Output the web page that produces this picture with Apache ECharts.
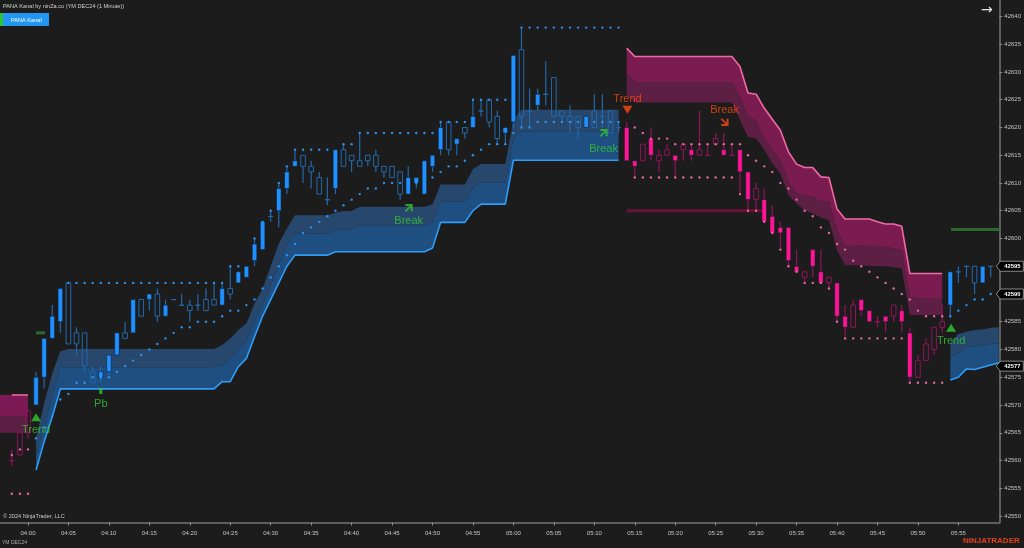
<!DOCTYPE html>
<html><head><meta charset="utf-8">
<style>html,body{margin:0;padding:0;background:#1c1c1c}#c{width:1024px;height:548px}</style>
<script src="https://cdn.jsdelivr.net/npm/echarts@6/dist/echarts.min.js"></script>
</head><body><div id="c"></div>
<script>
const firstBar = -2; // minutes relative to 04:00
const opens = [42560,42561,42565,42570,42575,42582,42585,42592,42583,42583,42576,42575,42576,42579,42583,42583,42589,42589,42590,42586,42589,42588,42588,42588,42589,42589,42588,42591,42592,42593,42596,42598,42604,42605,42609,42613,42615,42613,42611,42607,42609,42616,42615,42614,42615,42615,42613,42613,42612,42608,42610,42608,42613,42616,42621,42617,42620,42620,42623,42625,42622,42619,42621,42634,42623,42624,42626,42629,42623,42622,42622,42620,42623,42622,42623,42620,42620,42614,42614,42618,42614,42615,42615,42616,42616,42615,42615,42617,42616,42615,42616,42612,42607,42607,42604,42602,42602,42595,42593,42598,42594,42592,42592,42586,42584,42589,42587,42585,42586,42586,42587,42583,42575,42578,42580,42584,42588,42594,42595,42595,42592,42595];
const highs = [42562,42565,42569,42576,42582,42588,42591,42592,42584,42583,42577,42577,42579,42583,42585,42589,42589,42590,42591,42589,42589,42590,42589,42590,42591,42592,42592,42595,42594,42595,42600,42603,42605,42610,42613,42616,42615,42614,42612,42611,42616,42617,42615,42619,42615,42616,42613,42613,42612,42613,42611,42614,42615,42621,42621,42618,42620,42625,42625,42625,42623,42620,42633,42638,42627,42627,42632,42629,42623,42624,42622,42622,42626,42626,42623,42621,42621,42614,42617,42620,42616,42617,42615,42617,42617,42623,42617,42619,42619,42617,42616,42612,42610,42609,42606,42603,42602,42598,42594,42598,42598,42593,42592,42588,42589,42589,42587,42586,42586,42588,42588,42584,42579,42582,42584,42588,42594,42595,42595,42595,42595,42595];
const lows = [42559,42561,42564,42570,42573,42582,42583,42581,42579,42576,42574,42574,42575,42579,42582,42583,42586,42587,42585,42586,42589,42588,42585,42587,42587,42588,42588,42589,42592,42593,42595,42598,42603,42602,42608,42613,42610,42609,42608,42606,42608,42613,42612,42613,42613,42612,42611,42611,42607,42608,42609,42608,42612,42615,42615,42615,42618,42620,42622,42620,42617,42617,42620,42620,42620,42623,42624,42622,42621,42619,42618,42620,42620,42620,42619,42619,42614,42611,42614,42614,42612,42615,42611,42614,42614,42615,42615,42617,42615,42615,42608,42605,42605,42603,42601,42598,42595,42594,42592,42593,42592,42591,42585,42582,42584,42586,42585,42584,42583,42585,42583,42574,42575,42578,42579,42583,42586,42592,42593,42590,42592,42593];
const closes = [42560,42565,42569,42575,42582,42586,42591,42581,42581,42577,42574,42576,42579,42583,42582,42589,42586,42590,42586,42588,42589,42588,42587,42588,42587,42588,42591,42590,42594,42595,42599,42603,42604,42609,42612,42614,42613,42612,42608,42607,42616,42613,42614,42613,42614,42613,42612,42611,42608,42611,42611,42614,42615,42620,42616,42618,42619,42622,42623,42621,42618,42620,42633,42622,42623,42626,42626,42622,42622,42621,42620,42622,42620,42622,42619,42620,42614,42613,42617,42615,42615,42616,42614,42617,42615,42616,42615,42618,42615,42615,42612,42607,42609,42603,42601,42601,42596,42594,42594,42595,42592,42593,42586,42584,42588,42587,42585,42585,42585,42588,42585,42575,42578,42581,42584,42585,42594,42594,42595,42592,42595,42595];

const xTickValues = [0,5,10,15,20,25,30,35,40,45,50,55,60,65,70,75,80,85,90,95,100,105,110,115];
const xTickLabels = ['04:00','04:05','04:10','04:15','04:20','04:25','04:30','04:35','04:40','04:45','04:50','04:55','05:00','05:05','05:10','05:15','05:20','05:25','05:30','05:35','05:40','05:45','05:50','05:55'];
const yTickValues = [42550,42555,42560,42565,42570,42575,42580,42585,42590,42595,42600,42605,42610,42615,42620,42625,42630,42635,42640];

// Kanal bands
const pink0Start = -4;
const pink0Upper = [42571.8,42571.8,42571.8,42571.8,42571.8];
const pink0Mid = [42567.9,42567.9,42567.9,42567.9,42567.9];
const pink0Lower = [42565,42565,42565,42565,42565];

const blue1Start = 1;
const blue1Upper = [42564,42570.3,42575.7,42579.7,42580.1,42580.1,42580.1,42580.1,42580.1,42580.1,42580.1,42580.1,42580.1,42580.1,42580.1,42580.1,42580.1,42580.1,42580.1,42580.1,42580.1,42580.1,42580.1,42580.8,42582,42583.5,42584.7,42588.3,42591,42595,42599.1,42601.8,42604.2,42604.2,42604.2,42604.2,42604.2,42604.65,42604.95,42604.95,42605.7,42605.7,42605.7,42605.7,42605.7,42605.7,42605.7,42605.7,42605.7,42606.15,42609.75,42609.75,42609.75,42609.75,42612.5,42613.4,42613.4,42613.4,42613.4,42621.4,42623.2,42623.2,42623.2,42623.2,42623.2,42623.2,42623.2,42623.2,42623.2,42623.2,42623.2,42623.2,42623.2];
const blue1Mid = [42561,42566,42571.8,42576.8,42576.8,42576.8,42576.8,42576.8,42576.8,42576.8,42576.8,42576.8,42576.8,42576.8,42576.8,42576.8,42576.8,42576.8,42576.8,42576.8,42576.8,42576.8,42576.8,42577.2,42578.4,42579.9,42581.7,42585,42588,42591.5,42595.3,42598.8,42600.9,42600.9,42600.9,42600.9,42600.9,42601.4,42601.6,42601.6,42602.4,42602.4,42602.4,42602.4,42602.4,42602.4,42602.4,42602.4,42602.4,42602.9,42606.6,42606.6,42606.6,42606.6,42609.2,42610.1,42610.1,42610.1,42610.1,42618,42619.3,42619.3,42619.3,42619.3,42619.3,42619.3,42619.3,42619.3,42619.3,42619.3,42619.3,42619.3,42619.3];
const blue1Lower = [42558.3,42563.4,42567.9,42572.9,42572.9,42572.9,42572.9,42572.9,42572.9,42572.9,42572.9,42572.9,42572.9,42572.9,42572.9,42572.9,42572.9,42572.9,42572.9,42572.9,42572.9,42572.9,42572.9,42574.2,42574.2,42576.9,42578.4,42582.3,42586,42589,42592,42595,42597,42597,42597,42597,42597,42597.6,42597.6,42597.6,42597.6,42597.6,42597.6,42597.6,42597.6,42597.6,42597.6,42597.6,42597.6,42598.3,42602.9,42602.9,42602.9,42602.9,42605,42606.2,42606.2,42606.2,42606.2,42614.1,42614.1,42614.1,42614.1,42614.1,42614.1,42614.1,42614.1,42614.1,42614.1,42614.1,42614.1,42614.1,42614.1];

const pink1Start = 74;
const pink1Upper = [42634.3,42632.8,42632.8,42632.8,42632.8,42632.8,42632.8,42632.8,42632.8,42632.8,42632.8,42632.8,42632.8,42632.8,42631,42626.2,42626,42623.5,42621.5,42619.5,42615.6,42613.4,42612.8,42612.8,42611.1,42611,42605.3,42603.5,42603.5,42603.5,42603.5,42603,42602.6,42602.6,42602.2,42593.7,42593.7,42593.7,42593.7,42593.7];
const pink1Mid = [42629.8,42628.2,42628.2,42628.2,42628.2,42628.2,42628.2,42628.2,42628.2,42628.2,42628.2,42628.2,42628.2,42628.2,42625.6,42622,42621.2,42618,42616,42614.1,42610.2,42608.1,42607.8,42607.5,42606.6,42606.6,42601.5,42598.5,42598.7,42598.7,42598.7,42598.6,42598.5,42598.2,42597.9,42589.5,42589.3,42589.3,42589.3,42589.3];
const pink1Lower = [42625.9,42624.5,42624.5,42624.5,42624.5,42624.5,42624.5,42624.5,42624.5,42624.5,42624.5,42624.5,42624.5,42624.5,42621.4,42618.3,42618,42616,42613.5,42611.7,42607.8,42606.3,42605.1,42604.5,42603.8,42603.3,42597.9,42595.2,42595.2,42595.2,42595.1,42595,42595,42594.8,42594.6,42586.2,42586.2,42586.2,42586.2,42586.2];

const blue2Start = 114;
const blue2Upper = [42581.1,42582.8,42583.2,42583.5,42583.6,42583.9,42584];
const blue2Mid = [42578.7,42579.3,42580.5,42580.6,42580.8,42581,42581.1];
const blue2Lower = [42574.5,42575,42576.5,42576.4,42576.8,42577.2,42577.6];

// Dotted stop levels
const blueStopLowStart = 1;
const blueStopLow = [42564,42566,42568,42571,42572,42574,42574,42575,42575,42575,42576,42577,42578,42579,42580,42581,42582,42583,42584,42584,42585,42585,42585,42586,42587,42587,42588,42589,42591,42593,42595,42597,42599,42601,42602,42603,42604,42605,42606,42607,42608,42609,42609,42610,42610,42610,42610,42610,42610,42611,42612,42613,42613,42614,42615,42616,42617,42617,42617,42619,42620,42620,42621,42621,42621,42621,42621,42621,42621,42621,42621,42621,42621];
const blueStopHighStart = 5;
const blueStopHigh = [42592,42592,42592,42592,42592,42592,42592,42592,42592,42592,42592,42592,42592,42592,42592,42592,42592,42592,42592,42592,42595,42595,null,42600,42603,42605,42610,42613,42616,42616,42616,42616,42616,null,42617,42617,42619,42619,42619,42619,42619,42619,42619,42619,42619,42619,42621,42621,42621,42621,42625,42625,42625,42625,42625,null,42638,42638,42638,42638,42638,42638,42638,42638,42638,42638,42638,42638,42638];
const pinkStopHighStart = 75;
const pinkStopHigh = [42620,42619,42618,42618,42618,42617,42617,42617,42617,42617,42617,42617,42617,42617,42615,42614,42613,42612,42610,42609,42607,42605,42604,42602,42601,42599,42598,42596,42595,42594,42593,42592,42591,42590,42589,42587,42586,42586,42586];
const pinkStopLowStart = 75;
const pinkStopLow = [42611,42611,42611,42611,42611,42611,42611,42611,42611,42611,42611,42611,42611,42608,42605,42605,42603,42601,42598,42595,42594,42592,42592,42592,42591,42585,42582,42582,42582,42582,42582,42582,42582,42582,42574,42574,42574,42574,42574];
const pink0StopStart = -2;
const pink0StopHigh = [42561,42562,42562];
const pink0StopLow = [42554,42554,42554];
const blue2StopStart = 114;
const blue2Stop = [42586,42587,42588,42589,42589,42590];

// Level segments [fromBar, toBar, price]
const levelPink = [74,90.7,42605];
const levelGreenA = [114.1,120.06,42601.6];
const levelGreenB = [1,2.1,42583];

// Annotations
const annoTexts = ['Trend','Pb','Break','Break','Trend','Trend','Break'];
const annoBars = [1,9,47.06,71.15,114.1,74.1,86.1];
const annoPrices = [42565.5,42570.2,42603.1,42616.1,42581.5,42625.1,42623.1];
const lastPrices = [42595,42590,42577];

const GREEN='#33c933', ORANGE='#ff4a12';
const BLUE='#1e90ff', BLUE_DIM='#2368aa', PINK='#ff1493', PINK_DIM='#8f1459';
const BLUE_DOT='#2a97f5', PINK_DOT='#ef6aa6';

function isBlue(i){ return (i>=1 && i<=73) || i>=114; }

const bars = opens.map((o,k)=>[firstBar+k,o,highs[k],lows[k],closes[k]]);

function pairs(start,vals){ return vals.map((v,k)=>[start+k,v]); }

function candleItem(params,api){
  const i=api.value(0),o=api.value(1),h=api.value(2),l=api.value(3),c=api.value(4);
  const blue=isBlue(i);
  const filled=blue?c>o:c<o;
  const dim=blue?BLUE_DIM:PINK_DIM, bright=blue?BLUE:PINK;
  const top=api.coord([i,Math.max(o,c)]), bot=api.coord([i,Math.min(o,c)]);
  const hi=api.coord([i,h]), lo=api.coord([i,l]);
  const x=top[0], w=4.6;
  return {type:'group',children:[
    {type:'line',shape:{x1:x,y1:hi[1],x2:x,y2:top[1]},style:{stroke:dim,lineWidth:1.2}},
    {type:'line',shape:{x1:x,y1:bot[1],x2:x,y2:lo[1]},style:{stroke:dim,lineWidth:1.2}},
    {type:'rect',shape:{x:x-w/2,y:top[1],width:w,height:Math.max(bot[1]-top[1],0.2)},
     style:{fill:filled?bright:'rgba(0,0,0,0)',stroke:filled?'rgba(20,30,45,0.6)':dim,lineWidth:1}}
  ]};
}

function band(name,start,up,lo,color){
  return {type:'custom',name,coordinateSystem:'cartesian2d',silent:true,z:2,
    data:[[start,up[0]]],encode:{x:0,y:1},
    renderItem:(p,api)=>{
      const pts=[];
      up.forEach((v,k)=>pts.push(api.coord([start+k,v])));
      for(let k=lo.length-1;k>=0;k--)pts.push(api.coord([start+k,lo[k]]));
      return {type:'polygon',shape:{points:pts},style:{fill:color}};
    }};
}
function edge(name,start,vals,color){
  return {type:'line',name,data:pairs(start,vals),symbol:'none',silent:true,z:3,
    lineStyle:{color,width:1.6}};
}
function dots(name,start,vals,color){
  return {type:'scatter',name,data:pairs(start,vals).filter(d=>d[1]!==null),symbol:'circle',symbolSize:2.4,silent:true,z:6,
    itemStyle:{color,opacity:0.95}};
}
function level(name,seg,color,w){
  return {type:'line',name,data:[[seg[0],seg[2]],[seg[1],seg[2]]],symbol:'none',silent:true,z:4,lineStyle:{color,width:w}};
}
function mark(name,i,p,symbol,size,color,rot){
  return {type:'scatter',name,data:[[i,p]],symbol,symbolSize:size,symbolRotate:rot||0,silent:true,z:8,clip:false,itemStyle:{color}};
}
const ARROW='path://M4 2H22V20H17V10L5 22L2 19L14 7H4Z';

const BU1='#27476d',BL1='#1f4f80',PU1='#7b1c50',PL1='#5d1f43';

const series=[
  band('pink0a',pink0Start,pink0Upper,pink0Mid,'#7b1a55'),
  band('pink0b',pink0Start,pink0Mid,pink0Lower,'#5d1f45'),
  band('blue1a',blue1Start,blue1Upper,blue1Mid,BU1),
  band('blue1b',blue1Start,blue1Mid,blue1Lower,BL1),
  band('pink1a',pink1Start,pink1Upper,pink1Mid,PU1),
  band('pink1b',pink1Start,pink1Mid,pink1Lower,PL1),
  band('blue2a',blue2Start,blue2Upper,blue2Mid,BU1),
  band('blue2b',blue2Start,blue2Mid,blue2Lower,BL1),
  edge('blue1Line',blue1Start,blue1Lower,'#2f9cf6'),
  edge('pink1Line',pink1Start,pink1Upper,'#f06ba6'),
  edge('blue2Line',blue2Start,blue2Lower,'#2f9cf6'),
  edge('pink0Line',-2,pink0Upper.slice(2),'#f06ba6'),
  level('levelPink',levelPink,'#6a1236',3),
  level('levelGreenA',levelGreenA,'#2a6a2a',3),
  level('levelGreenB',levelGreenB,'#2a6a2a',3),
  {type:'custom',name:'candles',coordinateSystem:'cartesian2d',silent:true,z:5,data:bars,encode:{x:0,y:[1,2,3,4]},renderItem:candleItem},
  dots('blueStopLow',blueStopLowStart,blueStopLow,BLUE_DOT),
  dots('blueStopHigh',blueStopHighStart,blueStopHigh,BLUE_DOT),
  dots('blue2Stop',blue2StopStart,blue2Stop,BLUE_DOT),
  dots('pinkStopHigh',pinkStopHighStart,pinkStopHigh,PINK_DOT),
  dots('pinkStopLow',pinkStopLowStart,pinkStopLow,PINK_DOT),
  dots('pink0High',pink0StopStart,pink0StopHigh,PINK_DOT),
  dots('pink0Low',pink0StopStart,pink0StopLow,PINK_DOT),
  mark('t1',1,42567.8,'triangle',[10,8],GREEN),
  mark('t2',114.1,42583.9,'triangle',[10,8],GREEN),
  mark('t3',74.1,42623.2,'triangle',[10,8],ORANGE,180),
  mark('pb',9,42572.5,'rect',[3,6],GREEN),
  mark('a1',47.06,42605.5,ARROW,[8,8],GREEN),
  mark('a2',71.15,42619,ARROW,[8,8],GREEN),
  mark('a3',86.1,42621,ARROW,[8,8],ORANGE,-90),
  {type:'scatter',name:'texts',silent:true,z:9,clip:false,symbolSize:1,itemStyle:{color:'rgba(0,0,0,0)'},
    data:annoTexts.map((t,k)=>({value:[annoBars[k],annoPrices[k]],name:t,
      label:{show:true,position:'inside',formatter:t,color:k<5?GREEN:ORANGE,fontSize:11,fontFamily:'Liberation Sans'}}))},
  {type:'custom',name:'lastPrice',coordinateSystem:'cartesian2d',silent:true,z:10,clip:false,
    data:lastPrices.map(p=>[120,p]),encode:{x:0,y:1},
    renderItem:(p,api)=>{
      const pt=api.coord([120.06,api.value(1)]), x=pt[0], y=pt[1];
      return {type:'group',children:[
        {type:'polygon',shape:{points:[[x-3,y],[x+1,y-5],[x+24,y-5],[x+24,y+5],[x+1,y+5]]},style:{fill:'#000',stroke:'#8a8a8a',lineWidth:1}},
        {type:'text',style:{text:String(api.value(1)),x:x+13,y:y,fill:'#fff',font:'bold 5.8px "Liberation Sans"',align:'center',verticalAlign:'middle'}}
      ]};
    }}
];

const txt=(x,y,text,size,fill,extra)=>({type:'text',left:x,top:y,z:20,silent:true,style:Object.assign({text,fill,font:size+'px "Liberation Sans"'},extra||{})});

const chart=echarts.init(document.getElementById('c'),null,{renderer:'canvas'});
chart.setOption({
  animation:false,
  backgroundColor:'#1c1c1c',
  grid:{left:0,right:24,top:0,bottom:25.5,containLabel:false},
  xAxis:{type:'value',min:-3.458,max:120.06,position:'bottom',splitLine:{show:false},
    axisLine:{show:true,onZero:false,lineStyle:{color:'#5e5e5e',width:2}},
    axisTick:{show:true,length:3,lineStyle:{color:'#8a8a8a'},customValues:xTickValues},
    axisLabel:{show:true,color:'#c4c4c4',fontSize:6,fontFamily:'Liberation Sans',margin:8,customValues:xTickValues,
      formatter:v=>xTickLabels[xTickValues.indexOf(v)]||''}},
  yAxis:{type:'value',min:42548.83,max:42642.97,position:'right',splitLine:{show:false},
    axisLine:{show:true,onZero:false,lineStyle:{color:'#5e5e5e',width:2}},
    axisTick:{show:true,length:3,lineStyle:{color:'#8a8a8a'},customValues:yTickValues},
    axisLabel:{show:true,color:'#c4c4c4',fontSize:6,fontFamily:'Liberation Sans',margin:5,customValues:yTickValues,formatter:v=>String(v)}},
  series,
  graphic:[
    txt(3,3.5,'PANA Kanal by ninZa.co (YM DEC24 (1 Minute))',5.6,'#d0d0d0'),
    {type:'rect',left:0,top:13,z:20,silent:true,shape:{width:3,height:13},style:{fill:'#2fc42f'}},
    {type:'rect',left:3,top:13,z:20,silent:true,shape:{width:46,height:13},style:{fill:'#2196f3'}},
    txt(11,17,'PANA Kanal',5.6,'#ffffff'),
    txt(981,3.5,'\u2192',14,'#e0e0e0',{font:'14px "DejaVu Sans"'}),
    txt(3,513.5,'\u00a9 2024 NinjaTrader, LLC',5.6,'#c8c8c8'),
    txt(2,540,'YM DEC24',5,'#aaaaaa'),
    txt(963,537,'NINJATRADER',8,'#e0431c',{font:'bold 8px "Liberation Sans"'})
  ]
});
</script></body></html>
